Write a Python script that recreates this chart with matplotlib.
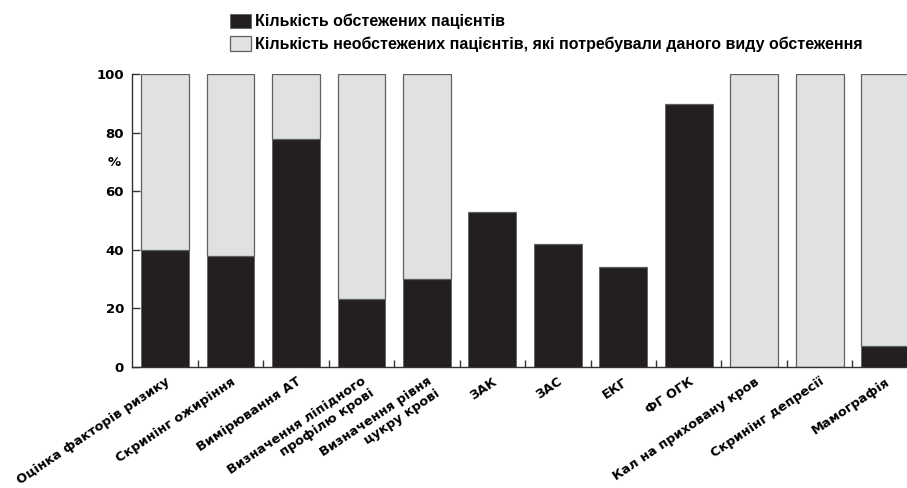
import matplotlib.pyplot as plt
from matplotlib.patches import Patch

# Data (percent)
categories = [
    "Оцінка факторів ризику",
    "Скринінг ожиріння",
    "Вимірювання АТ",
    "Визначення ліпідного\nпрофілю крові",
    "Визначення рівня\nцукру крові",
    "ЗАК",
    "ЗАС",
    "ЕКГ",
    "ФГ ОГК",
    "Кал на приховану кров",
    "Скринінг депресії",
    "Мамографія",
]
examined = [40, 38, 78, 23, 30, 53, 42, 34, 90, 0, 0, 7]
not_examined = [60, 62, 22, 77, 70, 0, 0, 0, 0, 100, 100, 93]
y_ticks = [0, 20, 40, 60, 80, 100]

label_examined = "Кількість обстежених пацієнтів"
label_not_examined = "Кількість необстежених пацієнтів, які потребували даного виду обстеження"

BLACK = "#231f20"
GREY = "#e0e1e3"
EDGE = "#5f6062"

plt.rcParams['font.family'] = ['DejaVu Sans']
plt.rcParams['font.weight'] = 'bold'


def main():
    fig = plt.figure(figsize=(9.07, 4.88), dpi=100)
    # axes runs a little past the right edge, like the reference
    ax = fig.add_axes([0.1459, 0.2486, 0.866, 0.599])

    x = list(range(len(categories)))
    ax.bar(x, examined, width=0.73, color=BLACK, edgecolor=EDGE, linewidth=0.6)
    ax.bar(x, not_examined, width=0.73, bottom=examined, color=GREY,
           edgecolor=EDGE, linewidth=0.9)

    ax.set_xlim(-0.5, len(categories) - 0.5)
    ax.set_ylim(0, 100)

    for side in ['top', 'right']:
        ax.spines[side].set_visible(False)
    for side in ['left', 'bottom']:
        ax.spines[side].set_color('#333333')
        ax.spines[side].set_linewidth(1.0)

    ax.set_yticks(y_ticks)
    ax.set_yticklabels([str(v) for v in y_ticks], fontsize=9.5, fontweight='bold')
    ax.tick_params(axis='y', direction='in', length=6, width=1.0, color='#333333', pad=6)

    ax.set_xticks(x)
    ax.set_xticklabels(categories, rotation=34, ha='right', va='top',
                       rotation_mode='anchor', fontsize=9.3, fontweight='bold',
                       multialignment='right', linespacing=1.1)
    ax.tick_params(axis='x', length=0, pad=6)
    ax.set_xticks([i + 0.5 for i in x[:-1]], minor=True)
    ax.tick_params(axis='x', which='minor', direction='in', length=5, width=1.0,
                   color='#333333')

    ax.text(-0.78, 70, "%", ha='center', va='center', fontsize=9.5, fontweight='bold')

    handles = [
        Patch(facecolor=BLACK, edgecolor=EDGE, linewidth=0.6, label=label_examined),
        Patch(facecolor=GREY, edgecolor=EDGE, linewidth=0.9, label=label_not_examined),
    ]
    fig.legend(handles=handles, loc='upper left', bbox_to_anchor=(0.239, 1.0),
               frameon=False, handlelength=1.3, handleheight=1.0,
               handletextpad=0.25, labelspacing=0.45, borderaxespad=0.45,
               prop={'family': ['Liberation Sans', 'DejaVu Sans'],
                     'weight': 'bold', 'size': 11.5})

    fig.savefig("out.png", dpi=100)


if __name__ == '__main__':
    main()
